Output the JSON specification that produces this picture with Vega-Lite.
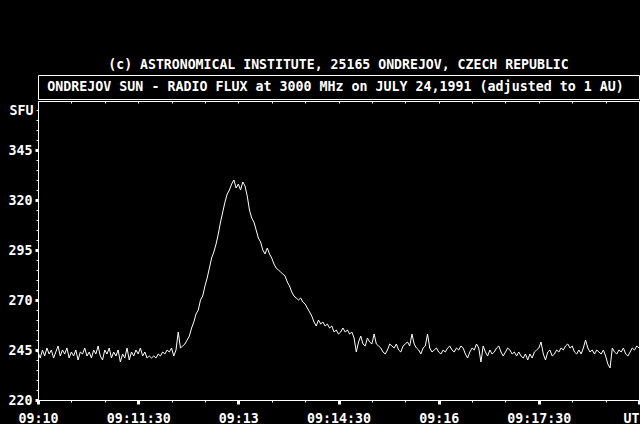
{
  "$schema": "https://vega.github.io/schema/vega-lite/v6.json",
  "background": "black",
  "padding": {"top": 57, "left": 7, "right": 0, "bottom": 0},
  "spacing": 0,
  "config": {
    "view": {"stroke": "white", "strokeWidth": 1},
    "axis": {"labelFont": "DejaVu Sans Mono", "labelFontWeight": "bold", "labelFontSize": 13.3, "labelColor": "white", "tickColor": "white", "domainColor": "white", "grid": false},
    "title": {"color": "white", "font": "DejaVu Sans Mono", "fontWeight": "bold", "fontSize": 13.2}
  },
  "vconcat": [
    {
      "width": 601,
      "height": 24,
      "title": {"text": "(c) ASTRONOMICAL INSTITUTE, 25165 ONDREJOV, CZECH REPUBLIC", "anchor": "middle", "frame": "group", "offset": -7, "baseline": "alphabetic"},
      "data": {"values": [{"label": "ONDREJOV SUN - RADIO FLUX at 3000 MHz on JULY 24,1991 (adjusted to 1 AU)", "px": 0, "py": 0}]},
      "mark": {"type": "text", "color": "white", "font": "DejaVu Sans Mono", "fontWeight": "bold", "fontSize": 13.3, "baseline": "middle", "align": "center", "dx": -3},
      "encoding": {
        "x": {"field": "px", "type": "quantitative", "scale": {"domain": [-1, 1]}, "axis": null},
        "y": {"field": "py", "type": "quantitative", "scale": {"domain": [-1, 1]}, "axis": null},
        "text": {"field": "label", "type": "nominal"}
      }
    },
    {
      "width": 601,
      "height": 299,
      "data": {"values": [
        {"t":0,"v":244},{"t":2,"v":241},{"t":4,"v":245},{"t":6,"v":242},{"t":8,"v":246},{"t":10,"v":243},{"t":12,"v":245},{"t":14,"v":241},{"t":16,"v":244},{"t":18,"v":247},
        {"t":20,"v":242},{"t":22,"v":245},{"t":24,"v":243},{"t":26,"v":246},{"t":28,"v":241},{"t":30,"v":244},{"t":32,"v":242},{"t":34,"v":245},{"t":36,"v":240},{"t":38,"v":244},
        {"t":40,"v":243},{"t":42,"v":246},{"t":44,"v":242},{"t":46,"v":244},{"t":48,"v":241},{"t":50,"v":245},{"t":52,"v":243},{"t":54,"v":247},{"t":56,"v":242},{"t":58,"v":240},
        {"t":60,"v":245},{"t":62,"v":243},{"t":64,"v":246},{"t":66,"v":241},{"t":68,"v":244},{"t":70,"v":242},{"t":72,"v":245},{"t":74,"v":239},{"t":76,"v":243},{"t":78,"v":241},
        {"t":80,"v":246},{"t":82,"v":240},{"t":84,"v":244},{"t":86,"v":242},{"t":88,"v":245},{"t":90,"v":243},{"t":92,"v":246},{"t":94,"v":242},{"t":96,"v":244},{"t":98,"v":241},
        {"t":100,"v":242},{"t":102,"v":241},{"t":104,"v":242},{"t":106,"v":241},{"t":108,"v":243},{"t":110,"v":242},{"t":112,"v":244},{"t":114,"v":243},{"t":116,"v":245},{"t":118,"v":244},
        {"t":120,"v":246},{"t":122,"v":242},{"t":124,"v":245},{"t":126,"v":254},{"t":128,"v":246},{"t":130,"v":247},{"t":132,"v":248},{"t":134,"v":250},{"t":136,"v":252},{"t":138,"v":256},
        {"t":140,"v":259},{"t":142,"v":263},{"t":144,"v":265},{"t":146,"v":270},{"t":148,"v":272},{"t":150,"v":277},{"t":152,"v":281},{"t":154,"v":286},{"t":156,"v":291},{"t":158,"v":294},
        {"t":160,"v":298},{"t":162,"v":303},{"t":164,"v":309},{"t":166,"v":314},{"t":168,"v":319},{"t":170,"v":323},{"t":172,"v":325},{"t":174,"v":328},{"t":176,"v":330},{"t":178,"v":326},
        {"t":180,"v":328},{"t":182,"v":325},{"t":184,"v":329},{"t":186,"v":327},{"t":188,"v":322},{"t":190,"v":315},{"t":192,"v":311},{"t":194,"v":309},{"t":196,"v":305},{"t":198,"v":301},
        {"t":200,"v":299},{"t":202,"v":295},{"t":204,"v":293},{"t":206,"v":296},{"t":208,"v":293},{"t":210,"v":291},{"t":212,"v":288},{"t":214,"v":286},{"t":216,"v":285},{"t":218,"v":284},
        {"t":220,"v":283},{"t":222,"v":282},{"t":224,"v":279},{"t":226,"v":277},{"t":228,"v":274},{"t":230,"v":272},{"t":232,"v":271},{"t":234,"v":270},{"t":236,"v":271},{"t":238,"v":269},
        {"t":240,"v":268},{"t":242,"v":266},{"t":244,"v":264},{"t":246,"v":262},{"t":248,"v":259},{"t":250,"v":257},{"t":252,"v":260},{"t":254,"v":258},{"t":256,"v":259},{"t":258,"v":257},
        {"t":260,"v":258},{"t":262,"v":256},{"t":264,"v":257},{"t":266,"v":254},{"t":268,"v":255},{"t":270,"v":253},{"t":272,"v":254},{"t":274,"v":256},{"t":276,"v":254},{"t":278,"v":255},
        {"t":280,"v":253},{"t":282,"v":254},{"t":284,"v":251},{"t":286,"v":244},{"t":288,"v":249},{"t":290,"v":252},{"t":292,"v":248},{"t":294,"v":247},{"t":296,"v":251},{"t":298,"v":249},
        {"t":300,"v":248},{"t":302,"v":253},{"t":304,"v":248},{"t":306,"v":247},{"t":308,"v":246},{"t":310,"v":244},{"t":312,"v":243},{"t":314,"v":245},{"t":316,"v":248},{"t":318,"v":247},
        {"t":320,"v":246},{"t":322,"v":248},{"t":324,"v":245},{"t":326,"v":244},{"t":328,"v":247},{"t":330,"v":248},{"t":332,"v":249},{"t":334,"v":247},{"t":336,"v":253},{"t":338,"v":248},
        {"t":340,"v":246},{"t":342,"v":245},{"t":344,"v":243},{"t":346,"v":246},{"t":348,"v":247},{"t":350,"v":253},{"t":352,"v":246},{"t":354,"v":244},{"t":356,"v":245},{"t":358,"v":246},
        {"t":360,"v":244},{"t":362,"v":243},{"t":364,"v":245},{"t":366,"v":244},{"t":368,"v":246},{"t":370,"v":247},{"t":372,"v":245},{"t":374,"v":244},{"t":376,"v":246},{"t":378,"v":245},
        {"t":380,"v":247},{"t":382,"v":246},{"t":384,"v":243},{"t":386,"v":241},{"t":388,"v":244},{"t":390,"v":246},{"t":392,"v":245},{"t":394,"v":248},{"t":396,"v":246},{"t":398,"v":239},
        {"t":400,"v":247},{"t":402,"v":244},{"t":404,"v":242},{"t":406,"v":245},{"t":408,"v":243},{"t":410,"v":244},{"t":412,"v":246},{"t":414,"v":247},{"t":416,"v":244},{"t":418,"v":242},
        {"t":420,"v":244},{"t":422,"v":246},{"t":424,"v":245},{"t":426,"v":243},{"t":428,"v":244},{"t":430,"v":242},{"t":432,"v":244},{"t":434,"v":242},{"t":436,"v":241},{"t":438,"v":243},
        {"t":440,"v":240},{"t":442,"v":243},{"t":444,"v":241},{"t":446,"v":244},{"t":448,"v":245},{"t":450,"v":246},{"t":452,"v":249},{"t":454,"v":243},{"t":456,"v":240},{"t":458,"v":244},
        {"t":460,"v":245},{"t":462,"v":242},{"t":464,"v":243},{"t":466,"v":245},{"t":468,"v":244},{"t":470,"v":246},{"t":472,"v":245},{"t":474,"v":247},{"t":476,"v":248},{"t":478,"v":246},
        {"t":480,"v":247},{"t":482,"v":244},{"t":484,"v":243},{"t":486,"v":245},{"t":488,"v":243},{"t":490,"v":246},{"t":492,"v":250},{"t":494,"v":246},{"t":496,"v":244},{"t":498,"v":245},
        {"t":500,"v":243},{"t":502,"v":245},{"t":504,"v":244},{"t":506,"v":243},{"t":508,"v":245},{"t":510,"v":242},{"t":512,"v":238},{"t":514,"v":236},{"t":516,"v":246},{"t":518,"v":244},
        {"t":520,"v":243},{"t":522,"v":245},{"t":524,"v":244},{"t":526,"v":246},{"t":528,"v":243},{"t":530,"v":242},{"t":532,"v":244},{"t":534,"v":246},{"t":536,"v":245},{"t":538,"v":247},
        {"t":540,"v":246}
      ]},
      "layer": [
        {
          "mark": {"type": "line", "color": "white", "strokeWidth": 1},
          "encoding": {
            "x": {"field": "t", "type": "quantitative", "title": null,
              "scale": {"domain": [0, 540], "nice": false, "zero": false},
              "axis": {"orient": "bottom",
                "values": [0,30,60,90,120,150,180,210,240,270,300,330,360,390,420,450,480,510,540],
                "labelExpr": "datum.value == 540 ? 'UT' : (datum.value % 90 != 0 ? '' : '09:' + (10 + floor(datum.value / 60)) + (datum.value % 60 ? ':30' : ''))",
                "domain": true,
                "tickSize": {"condition": {"test": "datum.value % 90 === 0", "value": 4}, "value": 2},
                "tickWidth": {"condition": {"test": "datum.value % 90 === 0", "value": 3}, "value": 1},
                "labelAlign": {"condition": {"test": "datum.value >= 540", "value": "right"}, "value": "center"},
                "labelPadding": 7, "labelOverlap": false, "labelFlush": false, "labelBound": false}},
            "y": {"field": "v", "type": "quantitative", "title": null,
              "scale": {"domain": [220, 369.5], "nice": false, "zero": false},
              "axis": {
                "values": [220,225,230,235,240,245,250,255,260,265,270,275,280,285,290,295,300,305,310,315,320,325,330,335,340,345,350,355,360,365],
                "labelExpr": "datum.value == 365 ? 'SFU' : ((datum.value - 220) % 25 == 0 ? datum.label : '')",
                "domain": true,
                "tickSize": {"condition": {"test": "(datum.value - 220) % 25 === 0", "value": 3}, "value": 2},
                "tickWidth": {"condition": {"test": "(datum.value - 220) % 25 === 0", "value": 3}, "value": 1},
                "labelPadding": 3, "labelOverlap": false, "labelFlush": false, "labelBound": false}}
          }
        },
        {
          "mark": {"type": "rule", "opacity": 0},
          "encoding": {
            "x": {"field": "t", "type": "quantitative", "title": null,
              "axis": {"orient": "top", "values": [0,30,60,90,120,150,180,210,240,270,300,330,360,390,420,450,480,510,540],
                "labels": false, "domain": false, "tickSize": -2, "tickWidth": 1}}
          }
        }
      ],
      "resolve": {"axis": {"x": "independent"}}
    }
  ]
}
